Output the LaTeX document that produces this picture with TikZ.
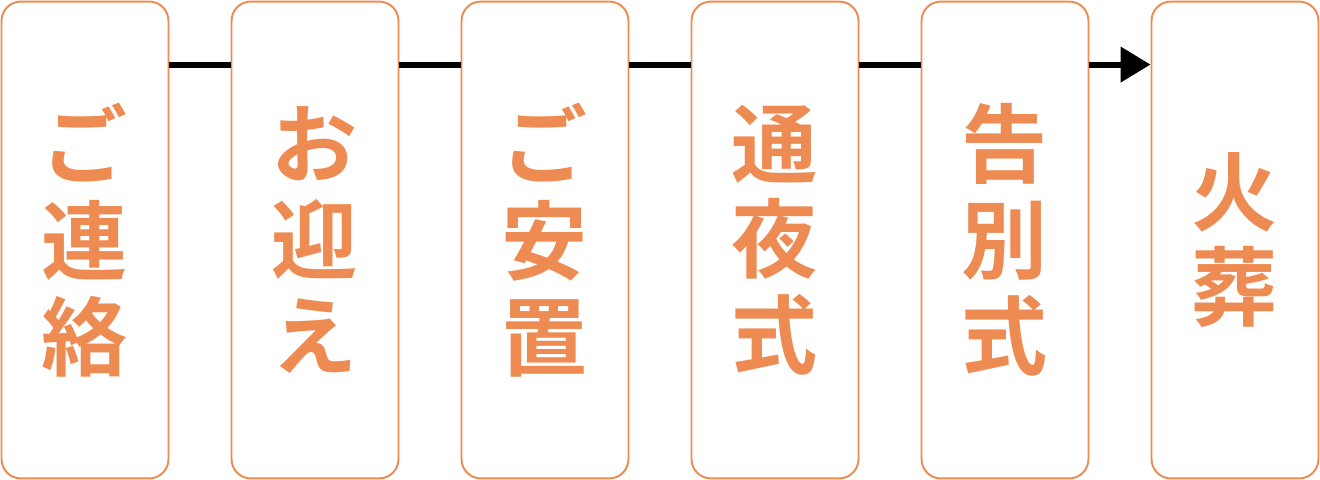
\documentclass[tikz,border=0pt]{standalone}
\usepackage{fontspec}
\newfontfamily\jpfont{Noto Sans CJK JP Bold}
\usepackage{tikz}
\usetikzlibrary{arrows.meta}
\usetikzlibrary{calc}
\definecolor{stepline}{RGB}{237,139,82}

\begin{document}
\begin{tikzpicture}[x=0.02cm, y=0.02cm,
		stepbox/.style={draw=stepline, fill=white, line width=1.1pt, rounded corners=11pt, minimum width=3.34cm, minimum height=9.54cm, inner sep=0pt, align=center, text=stepline, font=\jpfont\fontsize{49pt}{54.5pt}\selectfont},
		flow/.style={line width=3.4pt}]
		\useasboundingbox (0, 0) rectangle (1320, 480);
		\foreach \txt [count=\i] in {{ご\\連\\絡}, {お\\迎\\え}, {ご\\安\\置}, {通\\夜\\式}, {告\\別\\式}, {火\\葬}}
			\node[stepbox] (s\i) at (85+230*\i-230, 240) {\txt};
		\foreach \i [evaluate=\i as \j using int(\i+1)] in {1,...,4}
			\draw[flow] ($(s\i.north east)+(0,-64)$) to ($(s\j.north west)+(0,-64)$);
		\draw[flow, -{Triangle[length=17pt, width=19.5pt]}] ($(s5.north east)+(0,-64)$) to ($(s6.north west)+(0,-64)$);
\end{tikzpicture}
\end{document}
